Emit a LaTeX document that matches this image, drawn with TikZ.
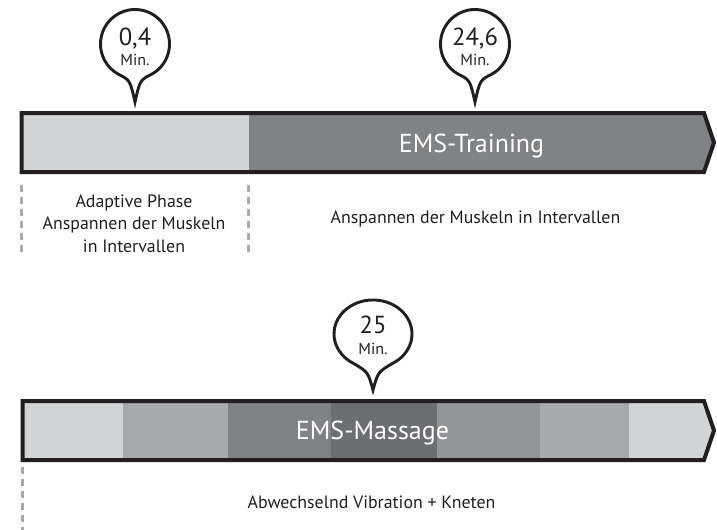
\documentclass[tikz,border=0pt]{standalone}
\usepackage{fontspec}
\setmainfont{PT Sans}
\definecolor{gA}{HTML}{D1D3D4}
\definecolor{gB}{HTML}{A7A9AC}
\definecolor{gC}{HTML}{808285}
\definecolor{gD}{HTML}{6D6E71}
\definecolor{gE}{HTML}{939598}
\definecolor{ink}{HTML}{231F20}
\begin{document}
\begin{tikzpicture}[x=0.75pt,y=-0.75pt,
  barline/.style={draw=ink,line width=3pt,line join=miter},
  bubbleline/.style={draw=ink,line width=2.2pt,fill=white,line join=miter},
  guide/.style={draw=gB,line width=1.9pt,dash pattern=on 4.9pt off 4.1pt},
  numtxt/.style={anchor=base,inner sep=0pt,text=ink,font=\fontsize{18.5}{20}\selectfont},
  mintxt/.style={anchor=base,inner sep=0pt,text=ink,font=\fontsize{12}{14}\selectfont},
  bartxt/.style={anchor=base,inner sep=0pt,text=white,font=\fontsize{19.5}{22}\selectfont},
  bodytxt/.style={anchor=base,inner sep=0pt,text=ink,font=\fontsize{13.4}{16}\selectfont},
  bubble/.pic={\path[bubbleline] (60:34.5) arc[start angle=60,end angle=-240,radius=34.5]
      .. controls (-5,36) .. (0,58) .. controls (5,36) .. cycle;},
  ovalbubble/.pic={\path[bubbleline] (19.5,29.4) arc[start angle=60,end angle=-240,x radius=39,y radius=34]
      .. controls (-5,38) .. (0,56) .. controls (5,38) .. cycle;}
]
\useasboundingbox (0,0) rectangle (717,529);

% ---------- top bar ----------
\fill[gC] (21.5,113) -- (704,113) -- (714,142.5) -- (704,172) -- (21.5,172) -- cycle;
\fill[gA] (21.5,113) rectangle (249,172);
\path[barline] (21.5,113) -- (704,113) -- (714,142.5) -- (704,172) -- (21.5,172) -- cycle;
\node[bartxt] (training) at (471.5,152) {EMS-Training};

% callouts top
\pic at (135,44) {bubble};
\node[numtxt] (n04) at (135,45) {0,4};
\node[mintxt] (m04) at (135,65) {Min.};
\pic at (475,44) {bubble};
\node[numtxt] (n246) at (475,45) {24,6};
\node[mintxt] (m246) at (475,65) {Min.};

% guides top
\coordinate (g1a) at (21.7,185);
\coordinate (g1b) at (21.7,256);
\coordinate (g2a) at (248.5,185);
\coordinate (g2b) at (248.5,256);
\draw[guide] (g1a) -- (g1b);
\draw[guide] (g2a) -- (g2b);

\node[bodytxt] (adap1) at (134,207) {Adaptive Phase};
\node[bodytxt] (adap2) at (134,229.5) {Anspannen der Muskeln};
\node[bodytxt] (adap3) at (134,252) {in Intervallen};
\node[bodytxt] (ansp) at (475.5,223) {Anspannen der Muskeln in Intervallen};

% ---------- bottom bar ----------
\fill[gA] (22.5,401) -- (704,401) -- (714,430.5) -- (704,460) -- (22.5,460) -- cycle;
\fill[gB] (123,401) rectangle (228,460);
\fill[gC] (228,401) rectangle (331,460);
\fill[gD] (331,401) rectangle (437,460);
\fill[gE] (437,401) rectangle (540,460);
\fill[gB] (540,401) rectangle (629,460);
\path[barline] (22.5,401) -- (704,401) -- (714,430.5) -- (704,460) -- (22.5,460) -- cycle;
\node[bartxt] (massage) at (372.5,439) {EMS-Massage};

\pic at (373,334) {ovalbubble};
\node[numtxt] (n25) at (373,333) {25};
\node[mintxt] (m25) at (373,354) {Min.};

\coordinate (g3a) at (22.7,467);
\coordinate (g3b) at (22.7,532);
\draw[guide] (g3a) -- (g3b);

\node[bodytxt] (abw) at (371.5,508) {Abwechselnd Vibration + Kneten};
\end{tikzpicture}
\end{document}
